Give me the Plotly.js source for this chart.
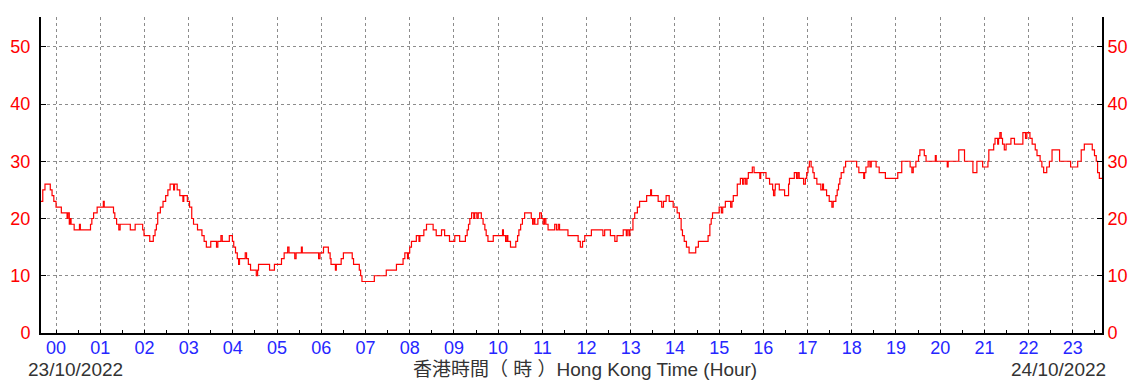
<!DOCTYPE html>
<html>
<head>
<meta charset="utf-8">
<script src="https://cdn.plot.ly/plotly-3.0.1.min.js"></script>
<style>html,body{margin:0;padding:0;background:#fff;}#chart{width:1129px;height:381px;}</style>
</head>
<body>
<div id="chart"></div>
<script>
// Time in hours relative to 00:00 on 24/10/2022 (negative = 23/10/2022), step values
const hours = [
-0.34,-0.3,-0.25,-0.13,-0.09,-0.05,0.0,0.12,0.25,0.27,0.3,0.32,0.34,0.41,0.53,0.55,0.78,0.81,0.85,0.93,
1.07,1.09,1.3,1.33,1.37,1.42,1.45,1.68,1.79,1.96,1.99,2.12,2.2,2.24,2.27,2.3,2.36,2.42,2.48,2.53,
2.58,2.66,2.68,2.74,2.8,2.87,2.89,2.97,3.02,3.07,3.11,3.2,3.3,3.35,3.4,3.5,3.63,3.66,3.73,3.76,
3.92,3.99,4.02,4.06,4.1,4.13,4.15,4.28,4.31,4.35,4.4,4.53,4.56,4.58,4.83,4.94,5.1,5.16,5.24,5.27,
5.4,5.43,5.55,5.57,5.94,5.97,6.05,6.16,6.2,6.22,6.32,6.34,6.45,6.5,6.7,6.73,6.86,6.89,6.92,7.2,
7.47,7.7,7.85,7.89,7.95,7.97,8.0,8.04,8.15,8.21,8.23,8.32,8.38,8.53,8.6,8.72,8.79,8.9,9.02,9.13,
9.26,9.3,9.33,9.36,9.4,9.45,9.47,9.52,9.55,9.62,9.66,9.7,9.73,9.77,9.89,10.1,10.12,10.17,10.2,10.22,
10.28,10.4,10.44,10.47,10.51,10.55,10.6,10.75,10.78,10.81,10.83,10.9,10.94,10.98,11.02,11.05,11.08,11.13,11.28,11.32,
11.36,11.39,11.58,11.81,11.86,11.91,11.96,12.11,12.37,12.41,12.54,12.64,12.69,12.83,12.9,12.92,12.96,12.98,13.05,13.09,
13.15,13.2,13.36,13.45,13.47,13.62,13.7,13.74,13.8,13.87,13.96,14.05,14.1,14.14,14.17,14.21,14.26,14.32,14.47,14.53,
14.75,14.79,14.82,14.85,15.0,15.05,15.08,15.14,15.26,15.29,15.32,15.41,15.48,15.53,15.56,15.6,15.63,15.66,15.75,15.79,
15.92,15.94,16.06,16.14,16.21,16.23,16.26,16.27,16.36,16.48,16.57,16.59,16.7,16.75,16.78,16.81,16.85,16.91,16.95,16.98,
17.01,17.04,17.08,17.12,17.15,17.21,17.3,17.34,17.36,17.43,17.49,17.55,17.58,17.64,17.67,17.7,17.73,17.76,17.82,17.86,
18.11,18.16,18.27,18.29,18.32,18.37,18.41,18.44,18.55,18.62,18.76,19.04,19.13,19.32,19.36,19.39,19.45,19.51,19.54,19.64,
19.68,19.89,19.91,20.16,20.18,20.42,20.55,20.74,20.83,20.96,21.08,21.1,21.21,21.24,21.3,21.32,21.35,21.38,21.41,21.45,
21.49,21.6,21.68,21.87,21.93,21.96,22.03,22.08,22.15,22.19,22.26,22.3,22.34,22.41,22.47,22.53,22.7,22.95,23.11,23.19,
23.26,23.44,23.49,23.53,23.56,23.6,23.66
];
const values = [
23,25,26,25,24,23,22,21,20,21,19,20,19,18,19,18,19,20,21,22,
23,22,21,20,19,18,19,18,19,18,17,16,17,18,19,21,22,23,24,25,
26,25,26,25,24,23,24,23,22,20,19,18,17,16,15,16,15,16,17,16,
17,16,15,14,13,12,13,14,13,12,11,10,11,12,11,12,13,14,15,14,
13,14,15,14,13,14,15,14,13,12,11,12,13,14,13,12,11,10,9,10,
11,12,13,14,13,14,15,16,17,16,17,18,19,18,17,18,17,16,17,16,
17,18,19,20,21,20,21,20,21,20,19,18,17,16,17,18,17,16,17,16,
15,16,17,18,19,20,21,20,19,20,19,20,21,20,19,20,19,18,19,18,
19,18,17,16,15,16,17,18,17,18,17,16,17,18,17,18,17,18,20,21,
22,23,24,25,24,23,22,23,24,23,22,21,20,18,17,16,15,14,15,16,
17,19,20,21,22,21,22,23,22,23,24,26,27,26,27,26,27,28,29,28,
27,28,27,26,25,24,25,26,25,24,26,27,28,27,28,27,27,26,27,28,
29,30,29,28,27,26,25,26,25,24,23,22,23,24,25,26,27,28,29,30,
29,28,27,28,29,30,29,30,29,28,27,28,30,29,28,29,30,31,32,31,
30,31,30,29,30,32,30,28,30,29,30,32,33,34,33,34,35,34,33,32,
33,34,33,35,34,35,34,33,32,31,30,29,28,29,30,32,30,29,30,32,
33,32,31,30,28,27,27
];
const hourTicks = [0,1,2,3,4,5,6,7,8,9,10,11,12,13,14,15,16,17,18,19,20,21,22,23];
const hourLabels = ['00','01','02','03','04','05','06','07','08','09','10','11','12','13','14','15','16','17','18','19','20','21','22','23'];
const yTicks = [0,10,20,30,40,50];
const dateLeft = '23/10/2022';
const dateRight = '24/10/2022';
const axisTitle = '香港時間（ 時 ）Hong Kong Time (Hour)';

const gridCol = '#8c8c8c';
const traces = [
  {x: hours, y: values, type: 'scatter', mode: 'lines', line: {shape: 'hv', color: '#ff0000', width: 1.2}, hoverinfo: 'skip', showlegend: false},
  {x: hours, y: values, type: 'scatter', mode: 'lines', yaxis: 'y2', line: {shape: 'hv', color: 'rgba(0,0,0,0)', width: 1}, hoverinfo: 'skip', showlegend: false}
];
const yCommon = {
  range: [0, 55.2], tickvals: yTicks, showline: true, linecolor: '#000', linewidth: 2,
  ticks: 'inside', ticklen: 5, tickcolor: '#000', tickwidth: 1,
  tickfont: {family: 'Liberation Sans, Arial', size: 18, color: '#ff0000'},
  zeroline: false, fixedrange: true
};
const layout = {
  width: 1129, height: 381,
  margin: {l: 41, r: 27, t: 17, b: 48},
  paper_bgcolor: '#ffffff', plot_bgcolor: '#ffffff',
  xaxis: {
    range: [-0.34, 23.66], tickvals: hourTicks, ticktext: hourLabels,
    showline: true, linecolor: '#000', linewidth: 2,
    ticks: 'inside', ticklen: 0, tickcolor: '#000',
    showgrid: true, gridcolor: gridCol, griddash: 'dot', gridwidth: 1,
    minor: {dtick: 0.5, tick0: 0.5, ticks: 'inside', ticklen: 3, tickcolor: '#000', showgrid: false},
    tickfont: {family: 'Liberation Sans, Arial', size: 18, color: '#2626ff'},
    ticklabelstandoff: -3,
    zeroline: false, fixedrange: true
  },
  yaxis: Object.assign({}, yCommon, {side: 'left', showgrid: true, gridcolor: gridCol, griddash: 'dot', gridwidth: 1, ticklabelstandoff: 5}),
  yaxis2: Object.assign({}, yCommon, {side: 'right', overlaying: 'y', showgrid: false, ticklabelstandoff: 0}),
  annotations: [
    {text: dateLeft, xref: 'paper', yref: 'paper', x: -0.0132, y: -0.116, xanchor: 'left', yanchor: 'middle', showarrow: false, borderpad: 0,
     font: {family: 'Liberation Sans, Arial', size: 19, color: '#333333'}},
    {text: axisTitle, xref: 'paper', yref: 'paper', x: 0.513, y: -0.116, xanchor: 'center', yanchor: 'middle', showarrow: false, borderpad: 0,
     font: {family: 'Liberation Sans, Noto Sans CJK TC, Arial', size: 19, color: '#333333'}},
    {text: dateRight, xref: 'paper', yref: 'paper', x: 1.0047, y: -0.116, xanchor: 'right', yanchor: 'middle', showarrow: false, borderpad: 0,
     font: {family: 'Liberation Sans, Arial', size: 19, color: '#333333'}}
  ]
};
Plotly.newPlot('chart', traces, layout, {staticPlot: true, displayModeBar: false});
</script>
</body>
</html>
